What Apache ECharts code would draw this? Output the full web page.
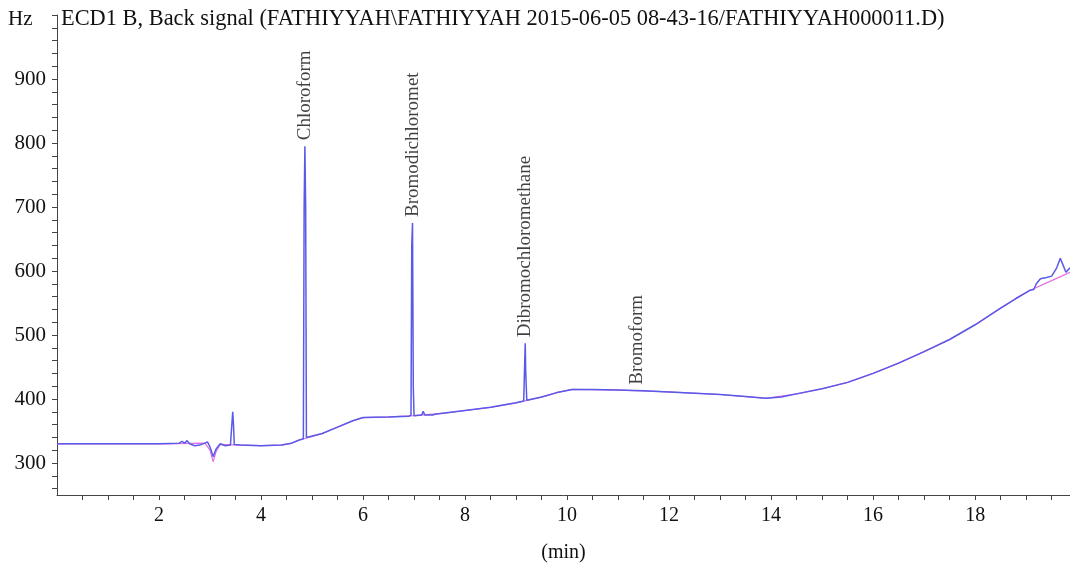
<!DOCTYPE html>
<html>
<head>
<meta charset="utf-8">
<script src="https://cdn.jsdelivr.net/npm/echarts@6/dist/echarts.min.js"></script>
<style>
html,body{margin:0;padding:0;background:#fff;}
#chart{width:1070px;height:568px;}
</style>
</head>
<body>
<div id="chart"></div>
<script>
// ---- data ----
var timeMin = [0.0, 1.0, 2.0, 2.4, 2.45, 2.5, 2.55, 2.6, 2.7, 2.8, 2.9, 2.95, 3.0, 3.06, 3.12, 3.2, 3.3, 3.4, 3.43, 3.445, 3.46, 3.475, 3.6, 4.0, 4.4, 4.6, 4.75, 4.83, 4.845, 4.86, 4.875, 4.89, 5.2, 5.5, 5.8, 6.0, 6.5, 6.9, 6.94, 6.955, 6.97, 6.985, 7.0, 7.15, 7.18, 7.21, 7.37, 7.39, 7.41, 7.6, 8.0, 8.5, 9.0, 9.15, 9.17, 9.18, 9.19, 9.21, 9.5, 9.8, 10.1, 10.5, 11.0, 11.5, 12.0, 12.5, 13.0, 13.5, 13.9, 14.2, 14.5, 15.0, 15.5, 16.0, 16.5, 17.0, 17.5, 18.0, 18.5, 18.8, 19.08, 19.15, 19.2, 19.28, 19.4, 19.5, 19.6, 19.67, 19.73, 19.78, 19.86];
var signalHz = [330, 330, 330, 331, 334, 331, 335, 330, 327, 328, 331, 333, 325, 310, 322, 330, 327, 328, 329, 380, 360, 329, 328, 327, 328, 331, 336, 338, 700, 795, 700, 340, 346, 356, 366, 371, 372, 373, 375, 640, 675, 420, 374, 375, 381, 375, 375, 378, 376, 378, 382, 387, 394, 397, 460, 487, 440, 398, 403, 410, 415, 415, 414, 413, 411, 409, 407, 404, 401, 403, 408, 416, 426, 440, 456, 474, 493, 516, 542, 557, 570, 571, 580, 588, 590, 592, 605, 620, 608, 598, 605];
var baseT = [0.0, 2.0, 2.9, 3.0, 3.06, 3.12, 3.2, 3.6, 4.0, 4.4, 4.6, 4.75, 4.9, 5.2, 5.5, 5.8, 6.0, 6.5, 7.0, 7.6, 8.0, 8.5, 9.0, 9.5, 9.8, 10.1, 11.0, 12.0, 13.0, 13.9, 14.5, 15.0, 15.5, 16.0, 16.5, 17.0, 17.5, 18.0, 18.5, 18.8, 19.08, 19.5, 19.86];
var baseHz = [330, 330, 331, 320, 302, 318, 329, 328, 327, 328, 331, 336, 339, 346, 356, 366, 371, 372, 374, 378, 382, 387, 394, 403, 410, 415, 414, 411, 407, 401, 408, 416, 426, 440, 456, 474, 493, 516, 542, 557, 570, 585, 598];
var peakNames = ["Chloroform", "Bromodichloromet", "Dibromochloromethane", "Bromoform"];
var peakTimes = [4.86, 6.97, 9.18, 11.37];
var peakTops = [795, 675, 487, 413];
var yLabelValues = [300, 400, 500, 600, 700, 800, 900];
var xLabelValues = [2, 4, 6, 8, 10, 12, 14, 16, 18];
var titleText = "ECD1 B, Back signal (FATHIYYAH\\FATHIYYAH 2015-06-05 08-43-16/FATHIYYAH000011.D)";
var yUnit = "Hz";
var xName = "(min)";

// ---- build ----
var yTicks = []; for (var v = 260; v <= 1000; v += 20) yTicks.push(v);
var xTicks = []; for (var t = 0.5; t <= 19.5; t += 0.5) xTicks.push(t);
function zip(a, b) { return a.map(function (x, i) { return [x, b[i]]; }); }
var FONT = "'Liberation Serif','Times New Roman',serif";

var chart = echarts.init(document.getElementById('chart'), null, {renderer: 'canvas'});
chart.setOption({
  animation: false,
  backgroundColor: '#ffffff',
  title: {
    text: titleText, left: 61, top: 8, padding: 0,
    textStyle: {fontFamily: FONT, fontSize: 22.4, fontWeight: 'normal', color: '#111'}
  },
  graphic: [{
    type: 'text', left: 8, top: 9,
    style: {text: yUnit, font: "21px " + FONT, fill: '#111'}
  }],
  grid: {left: 57, right: 0, top: 15, bottom: 73, containLabel: false},
  xAxis: {
    type: 'value', min: 0, max: 19.86,
    name: xName, nameLocation: 'middle', nameGap: 48,
    nameTextStyle: {fontFamily: FONT, fontSize: 20, color: '#111'},
    axisLine: {show: true, lineStyle: {color: '#444', width: 1}},
    axisTick: {show: true, customValues: xTicks, length: 5, lineStyle: {color: '#444'}},
    axisLabel: {show: true, customValues: xLabelValues, margin: 11,
      fontFamily: FONT, fontSize: 20, color: '#111'},
    splitLine: {show: false}
  },
  yAxis: {
    type: 'value', min: 250, max: 1000,
    axisLine: {show: true, lineStyle: {color: '#444', width: 1}},
    axisTick: {show: true, customValues: yTicks, length: 5, lineStyle: {color: '#444'}},
    axisLabel: {show: true, customValues: yLabelValues, margin: 11,
      fontFamily: FONT, fontSize: 21, color: '#111'},
    splitLine: {show: false}
  },
  series: [{
    type: 'line', name: 'baseline', data: zip(baseT, baseHz),
    showSymbol: false, symbol: 'none',
    lineStyle: {color: '#e36fe3', width: 1.2}, z: 2
  }, {
    type: 'line', name: 'signal', data: zip(timeMin, signalHz),
    showSymbol: false, symbol: 'none',
    lineStyle: {color: '#5a5ae8', width: 1.5}, z: 3
  }, {
    type: 'scatter', name: 'labels',
    data: peakTimes.map(function (t, i) { return {value: [t, peakTops[i]], name: peakNames[i]}; }),
    symbolSize: 0, silent: true, z: 4,
    label: {
      show: true, position: 'top', distance: 6, rotate: 90,
      align: 'left', verticalAlign: 'middle',
      formatter: function (p) { return p.name; },
      fontFamily: FONT, fontSize: 19, color: '#111'
    }
  }]
});
</script>
</body>
</html>
